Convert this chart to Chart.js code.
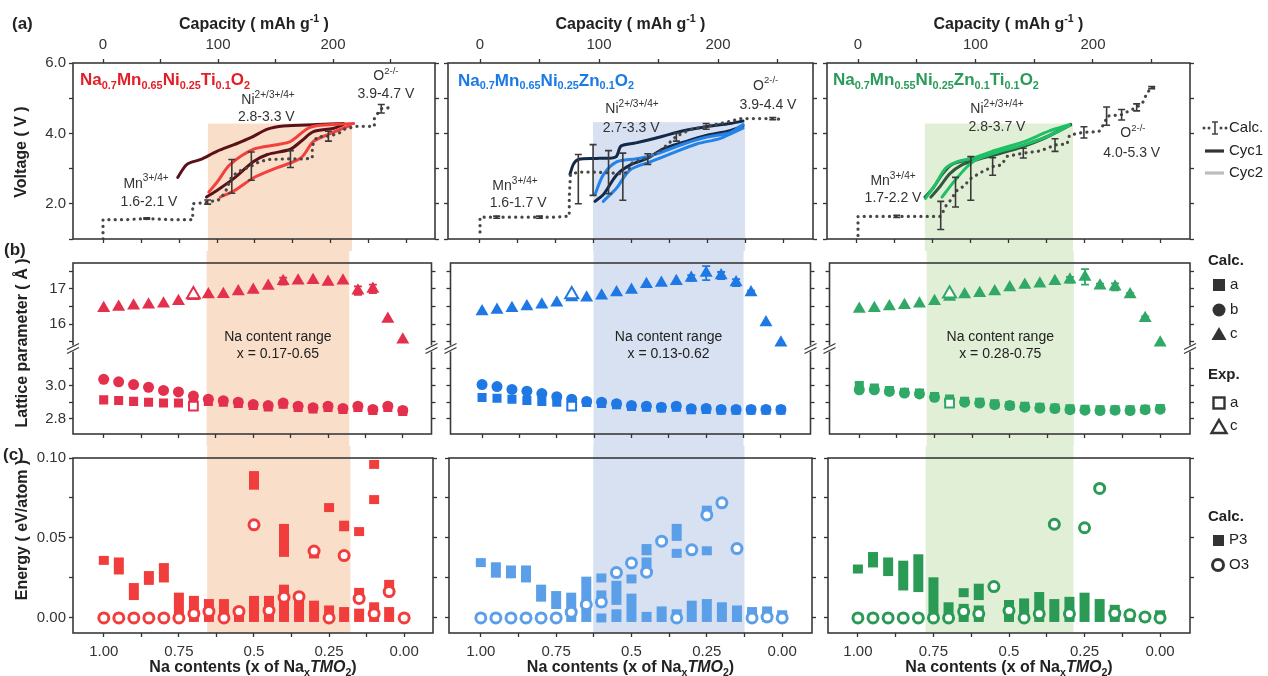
<!DOCTYPE html>
<html><head><meta charset="utf-8">
<script src="https://cdn.jsdelivr.net/npm/chart.js@4.4.1/dist/chart.umd.min.js"></script>
<style>
html,body{margin:0;padding:0;background:#fff;}
body{width:1268px;height:676px;position:relative;overflow:hidden;}
canvas{position:absolute;}
</style></head><body>
<script>
// ================= DATA =================
// Na content (x of NaxTMO2) of the computed states
const naX = [1.00,0.95,0.90,0.85,0.80,0.75,0.70,0.65,0.60,0.55,0.50,0.45,0.40,0.35,0.30,0.25,0.20,0.15,0.10,0.05,0.00];
const naTicks = [1.0,0.875,0.75,0.625,0.5,0.375,0.25,0.125,0.0];
const naTickLabels = ['1.00','','0.75','','0.5','','0.25','','0.00'];
const capTicks = [0,50,100,150,200,250];
const capTickLabels = ['0','','100','','200',''];
const voltTicks = [1,2,3,4,5,6];
const voltTickLabels = ['','2.0','','4.0','','6.0'];
const latTopTicks = [15.5,16,16.5,17,17.5];
const latTopLabels = ['','16','','17',''];
const latBotTicks = [2.8,2.9,3.0,3.1];
const latBotLabels = ['2.8','','3.0',''];
const enTicks = [0,0.025,0.05,0.075,0.10];
const enTickLabels = ['0.00','','0.05','','0.10'];

// Na content range (shaded) per composition [low, high]
const shadeRange = [[0.179,0.656],[0.125,0.627],[0.287,0.776]];
const shadeTopV = [4.28,4.32,4.28];
const rangeText = ['x = 0.17-0.65','x = 0.13-0.62','x = 0.28-0.75'];

// (a) calculated voltage staircase [capacity, V]
const calc1 = [[0,1.0],[0,1.55],[20,1.55],[38,1.58],[60,1.55],[78,1.55],[78,2.0],[85,2.02],[91,2.05],[100,2.1],[106,2.3],[112,2.78],[120,2.95],[129,3.07],[136,3.2],[145,3.26],[163,3.28],[175,3.27],[182,3.3],[182,3.65],[186,3.9],[196,3.92],[205,4.0],[210,4.12],[220,4.2],[230,4.2],[236,4.2],[236,4.45],[242,4.7],[252,4.74]];
const calc2 = [[0,1.2],[0,1.62],[14,1.62],[30,1.62],[50,1.62],[65,1.62],[75,1.65],[75,2.2],[76,2.84],[83,2.9],[95,2.9],[108,2.88],[120,2.85],[124,2.9],[127,3.15],[135,3.25],[141,3.3],[151,3.5],[158,3.7],[165,3.92],[176,4.1],[190,4.2],[205,4.3],[219,4.42],[236,4.42],[246,4.42],[252,4.4]];
const calc3 = [[0,1.1],[0,1.64],[20,1.64],[33,1.64],[50,1.64],[70,1.64],[72,1.75],[75,1.95],[80,2.15],[83,2.35],[90,2.5],[96,2.72],[105,2.9],[115,3.06],[122,3.1],[127,3.35],[135,3.4],[141,3.44],[155,3.5],[168,3.67],[178,3.7],[180,3.95],[192,4.03],[205,4.05],[210,4.3],[212,4.49],[224,4.53],[237,4.74],[242,4.85],[246,5.15],[250,5.3],[256,5.3]];
// error bars [capacity, V, +-]
const calcErr1 = [[38,1.58,0.02],[91,2.05,0.06],[112,2.78,0.48],[129,3.07,0.4],[163,3.27,0.24],[196,3.92,0.14],[242,4.7,0.12]];
const calcErr2 = [[14,1.62,0.03],[50,1.62,0.03],[82.6,2.7,0.7],[95,2.96,0.72],[108,2.9,0.61],[120,2.77,0.67],[141,3.27,0.15],[165,3.9,0.12],[190,4.2,0.08],[246,4.42,0.03]];
const calcErr3 = [[33,1.64,0.03],[70.4,1.67,0.4],[83,2.33,0.42],[96,2.72,0.62],[114.6,3.06,0.25],[140.7,3.44,0.14],[167.7,3.67,0.18],[192.3,4.03,0.16],[211.6,4.49,0.26],[224.4,4.53,0.15],[237.2,4.74,0.1],[250,5.3,0.03]];
// experimental cycles [capacity, V]
const cyc1a_1 = [[65,2.75],[73,3.12],[85,3.26],[99,3.49],[114,3.68],[128,3.87],[143,4.12],[157,4.21],[186,4.25],[209,4.28]];
const cyc1b_1 = [[90,2.19],[100,2.4],[113,2.7],[131,3.2],[143,3.4],[163,3.55],[172,3.77],[183,4.05],[200,4.14],[209,4.25]];
const cyc2a_1 = [[92,2.33],[100,2.65],[110,3.1],[131,3.55],[151,3.68],[163,3.77],[178,4.14],[189,4.23],[218,4.28]];
const cyc2b_1 = [[102,2.19],[114,2.37],[131,2.74],[151,3.02],[172,3.3],[183,3.77],[195,3.96],[215,4.23]];
const cyc1a_2 = [[75.6,2.84],[78.4,3.12],[82.6,3.26],[98,3.29],[114,3.33],[118.5,3.64],[131,3.73],[153.6,3.92],[170,4.07],[190,4.19],[210,4.28],[221,4.35]];
const cyc1b_2 = [[96.6,2.07],[103.6,2.26],[114.8,2.82],[126,3.1],[140,3.28],[154,3.56],[171,3.75],[190,3.94],[210,4.08],[221,4.22]];
const cyc2a_2 = [[96.6,2.26],[103.6,2.82],[114.8,3.19],[131.6,3.28],[148.5,3.42],[171,3.7],[190,3.89],[210,4.02],[221,4.25]];
const cyc2b_2 = [[103.6,2.07],[114.8,2.45],[126,2.96],[143,3.19],[160,3.42],[182,3.7],[202,3.86],[221,4.15]];
const cyc1a_3 = [[57,2.19],[64,2.45],[72,2.85],[80,3.12],[90,3.22],[100,3.27],[120,3.45],[140,3.65],[160,3.9],[181,4.26]];
const cyc1b_3 = [[62,2.19],[70,2.5],[78,2.85],[88,3.1],[100,3.24],[120,3.42],[140,3.62],[160,3.88],[181,4.24]];
const cyc2a_3 = [[57.5,2.15],[66,2.56],[74.5,3.01],[84.5,3.2],[97,3.29],[117,3.52],[140,3.75],[163,4.07],[180,4.25]];
const cyc2b_3 = [[71.5,2.19],[80,2.56],[91.6,3.01],[100,3.24],[117,3.45],[140,3.66],[163,3.94],[180,4.23]];

// (b) lattice parameters (Angstrom) vs naX
const latA1 = [2.914,2.910,2.905,2.900,2.895,2.895,2.895,2.905,2.900,2.893,2.880,2.872,2.888,2.868,2.860,2.868,2.856,2.868,2.850,2.868,2.845];
const latB1 = [3.038,3.023,3.006,2.990,2.971,2.962,2.937,2.918,2.909,2.900,2.886,2.880,2.895,2.876,2.867,2.876,2.863,2.876,2.857,2.876,2.851];
const latC1 = [16.45,16.49,16.52,16.55,16.58,16.65,16.79,16.84,16.85,16.93,16.97,17.08,17.22,17.23,17.25,17.20,17.23,16.95,17.00,16.15,15.56];
const latCErr1 = [0,0,0,0,0,0,0,0,0,0,0,0,0.1,0,0,0,0,0.12,0.12,0,0];
const latA2 = [2.928,2.924,2.918,2.910,2.905,2.900,2.900,2.898,2.893,2.885,2.875,2.870,2.865,2.870,2.855,2.857,2.852,2.852,2.852,2.852,2.852];
const latB2 = [3.006,2.994,2.977,2.966,2.952,2.933,2.918,2.905,2.900,2.891,2.880,2.876,2.870,2.876,2.861,2.863,2.857,2.857,2.857,2.857,2.857];
const latC2 = [16.36,16.40,16.45,16.50,16.55,16.61,16.76,16.75,16.81,16.90,16.97,17.13,17.17,17.22,17.31,17.45,17.38,17.18,16.90,16.05,15.47];
const latCErr2 = [0,0,0,0,0,0,0,0,0,0,0,0,0,0,0.08,0.2,0.1,0.1,0.05,0,0];
const latA3 = [3.000,2.985,2.970,2.960,2.955,2.935,2.920,2.905,2.900,2.890,2.880,2.875,2.870,2.865,2.860,2.858,2.855,2.855,2.855,2.858,2.862];
const latB3 = [2.975,2.975,2.965,2.955,2.950,2.930,2.910,2.900,2.895,2.885,2.880,2.870,2.865,2.862,2.855,2.852,2.850,2.852,2.850,2.855,2.858];
const latC3 = [16.43,16.45,16.50,16.54,16.58,16.65,16.77,16.84,16.88,16.93,17.04,17.11,17.15,17.22,17.26,17.34,17.09,17.06,16.84,16.17,15.47];
const latCErr3 = [0,0,0,0,0,0,0,0,0,0,0,0,0,0,0.08,0.22,0.06,0.1,0.05,0.05,0];
const expNa = 0.70;
const expA = [2.876,2.876,2.895];
const expC = [16.84,16.84,16.86];

// (c) relative energies (eV/atom): P3 as [x, low, high], O3 vs naX
const p3_1 = [[1.00,0.036,0.036],[0.95,0.030,0.035],[0.90,0.014,0.019],[0.85,0.0235,0.0265],[0.80,0.025,0.0315],
  [0.75,0,0.013],[0.70,0,0.011],[0.65,0,0.009],[0.60,0,0.009],[0.55,0,0.0016],
  [0.50,0.083,0.089],[0.50,0,0.011],[0.45,0,0.011],[0.40,0.041,0.056],[0.40,0,0.018],
  [0.35,0,0.012],[0.30,0.040,0.040],[0.30,0,0.008],[0.25,0.069,0.069],[0.25,0,0.005],
  [0.20,0.057,0.058],[0.20,0,0.004],[0.15,0.054,0.054],[0.15,0.012,0.016],[0.15,0,0.003],
  [0.10,0.096,0.096],[0.10,0.074,0.074],[0.10,0,0.007],[0.05,0.017,0.021],[0.05,0,0.004]];
const o3_1 = [0,0,0,0,0,0,0.0027,0.0041,0,0.0041,0.0582,0.0047,0.0129,0.0133,0.0418,0,0.039,0.0122,0.0027,0.0165,0];
const p3_2 = [[1.00,0.0346,0.0346],[0.95,0.028,0.032],[0.90,0.0276,0.030],[0.85,0.025,0.030],[0.80,0.013,0.018],
  [0.75,0.0084,0.014],[0.70,0,0.013],[0.65,0,0.023],[0.60,0.025,0.025],[0.60,0.0096,0.0144],[0.60,0,0],
  [0.55,0.011,0.0204],[0.55,0,0.0026],[0.50,0.0244,0.0244],[0.50,0,0.0124],[0.45,0.042,0.0434],[0.45,0.034,0.035],[0.45,0,0.001],
  [0.40,0,0.0044],[0.35,0.051,0.056],[0.35,0.0404,0.0404],[0.35,0,0.0026],[0.30,0,0.008],
  [0.25,0.0674,0.0674],[0.25,0.042,0.042],[0.25,0,0.009],[0.20,0,0.007],[0.15,0,0.005],[0.10,0,0.004],[0.05,0,0.0044],[0.00,0,0.002]];
const o3_2 = [0,0,0,0,0,0,0.0036,0.0084,0.010,0.0284,0.0344,0.0286,0.048,0,0.0426,0.0644,0.072,0.0434,0,0.0006,0];
const p3_3 = [[1.00,0.0306,0.0306],[0.95,0.0344,0.0384],[0.90,0.029,0.035],[0.85,0.020,0.033],[0.80,0.019,0.037],
  [0.75,0,0.0226],[0.70,0,0.007],[0.65,0.0158,0.0158],[0.65,0,0.006],[0.60,0.014,0.0186],[0.60,0,0.005],
  [0.50,0,0.0084],[0.45,0,0.0094],[0.40,0,0.0134],[0.35,0,0.009],[0.30,0,0.0104],[0.25,0,0.013],[0.20,0,0.009],
  [0.15,0,0.0054],[0.10,0,0.002],[0.05,0,0.0004],[0.00,0,0.002]];
const o3_3 = [0,0,0,0,0,0,0,0.004,0.0026,0.0196,0.0046,0,0.0026,0.0586,0.0026,0.0564,0.081,0.003,0.002,0.0006,0];

// ================= TEXT =================
const compSegs = [
  [['Na',''],['0.7','sub'],['Mn',''],['0.65','sub'],['Ni',''],['0.25','sub'],['Ti',''],['0.1','sub'],['O',''],['2','sub']],
  [['Na',''],['0.7','sub'],['Mn',''],['0.65','sub'],['Ni',''],['0.25','sub'],['Zn',''],['0.1','sub'],['O',''],['2','sub']],
  [['Na',''],['0.7','sub'],['Mn',''],['0.55','sub'],['Ni',''],['0.25','sub'],['Zn',''],['0.1','sub'],['Ti',''],['0.1','sub'],['O',''],['2','sub']]
];
const mnRange = ['1.6-2.1 V','1.6-1.7 V','1.7-2.2 V'];
const niRange = ['2.8-3.3 V','2.7-3.3 V','2.8-3.7 V'];
const oRange  = ['3.9-4.7 V','3.9-4.4 V','4.0-5.3 V'];
// label anchors in (capacity, V)
const anchor = [
  {title:[-20,5.5],  ni:[143.5,4.94], niR:[142,4.46], o:[246,5.63], oR:[246,5.11], mn:[37.4,2.57], mnR:[40,2.06]},
  {title:[-18.5,5.49],ni:[127.7,4.69], niR:[127,4.15], o:[240,5.35], oR:[242,4.79], mn:[29.4,2.51], mnR:[32,2.01]},
  {title:[-21.3,5.51],ni:[118.3,4.69], niR:[118.3,4.17],o:[234,4.0], oR:[233,3.44], mn:[29.8,2.65], mnR:[29.8,2.15]}
];

// ================= STYLE / LAYOUT =================
const FONT = '"Liberation Sans", Arial, Helvetica, sans-serif';
const INK = '#333';
const titleColor = ['#e21f27','#1b7ae6','#2a9b58'];
const latColor = ['#e3304c','#1f78e3','#30a866'];
const barColor = ['#f23d3d','#5b9fe8','#2b9a55'];
const cyc1Color = ['#5b1117','#13294a','#2e5b3e'];
const cyc2Color = ['#f2403f','#2582e6','#1fbf66'];
const shadeColor = ['#f9dfca','#d7e1f1','#e2efd7'];
const capRange = [[-26.1,288.7],[-26.9,279.8],[-26.4,282.6]];
const naRange = [[-0.096,1.1026],[-0.099,1.1056],[-0.099,1.099]];

const COLS = [{f:[73,435],c:[0,441]},{f:[448,813],c:[441,820]},{f:[827,1190],c:[820,1268]}];
const ROWS = {a:{f:[63,243],c:[0,251]}, b:{f:[259,438],c:[251,446]}, c:{f:[454,633],c:[446,676]}};

Chart.defaults.font.family = FONT;
Chart.defaults.color = INK;

function makeCanvas(ci, rk){
  const c = COLS[ci], r = ROWS[rk];
  const w = c.c[1]-c.c[0], h = r.c[1]-r.c[0];
  const cv = document.createElement('canvas');
  cv.width = w; cv.height = h;
  cv.style.left = c.c[0]+'px'; cv.style.top = r.c[0]+'px';
  cv.style.width = w+'px'; cv.style.height = h+'px';
  document.body.appendChild(cv);
  return {cv, x0:c.c[0], y0:r.c[0], L:c.f[0]-c.c[0], R:c.c[1]-c.f[1], T:r.f[0]-r.c[0], B:r.c[1]-r.f[1]};
}

function axis(pos, min, max, values, labels, fit, extra, pad){
  const vertical = pos==='left'||pos==='right';
  return Object.assign({
    type:'linear', position:pos, min, max, offset:false,
    afterBuildTicks(ax){ ax.ticks = values.map(v=>({value:v})); },
    afterFit(ax){ if (vertical) ax.width = fit; else ax.height = fit; },
    ticks:{autoSkip:false, maxRotation:0, minRotation:0, padding:pad==null?3:pad, color:'#333',
      font:{size:15, family:FONT}, callback:(v,i)=> labels ? (labels[i] ?? '') : ''},
    grid:{display:true, drawOnChartArea:false, drawTicks:true, tickLength:4, tickWidth:1.3, tickColor:'#333', offset:false, z:1},
    border:{display:false}
  }, extra||{});
}

function drawRich(ctx, segs, x, y, size, o){
  o = o||{};
  const b = o.bold ? 'bold ' : '';
  const parts = segs.map(([t,m])=>{
    const small = (m==='sub'||m==='sup');
    const fs = small ? size*(o.small||0.66) : size;
    const font = (m==='i'?'italic ':'') + b + fs.toFixed(1) + 'px ' + FONT;
    ctx.font = font;
    return {t, m, font, w: ctx.measureText(t).width};
  });
  const total = parts.reduce((s,p)=>s+p.w,0);
  let cx = o.align==='center' ? x-total/2 : (o.align==='right' ? x-total : x);
  ctx.save();
  ctx.fillStyle = o.color||'#222'; ctx.textBaseline='middle'; ctx.textAlign='left';
  for (const p of parts){
    ctx.font = p.font;
    const dy = p.m==='sub' ? size*0.32 : (p.m==='sup' ? -size*0.36 : 0);
    ctx.fillText(p.t, cx, y+dy);
    cx += p.w;
  }
  ctx.restore();
}

// page-level texts (absolute pixel positions)
const overlayTexts = [
  {s:[['(a)','']], x:12, y:24, size:17, bold:true},
  {s:[['(b)','']], x:4, y:250, size:17, bold:true},
  {s:[['(c)','']], x:3, y:455, size:17, bold:true},
  {s:[['Voltage ( V )','']], x:22, y:152, size:16, bold:true, rot:true},
  {s:[['Lattice parameter ( Å )','']], x:23, y:343, size:16, bold:true, rot:true},
  {s:[['Energy ( eV/atom )','']], x:23, y:530, size:16, bold:true, rot:true},
  {s:[['Calc.','']], x:1229, y:128, size:15},
  {s:[['Cyc1','']], x:1229, y:151, size:15},
  {s:[['Cyc2','']], x:1229, y:173, size:15},
  {s:[['Calc.','']], x:1208, y:261, size:15, bold:true},
  {s:[['a','']], x:1230, y:285, size:15},
  {s:[['b','']], x:1230, y:310, size:15},
  {s:[['c','']], x:1230, y:334, size:15},
  {s:[['Exp.','']], x:1208, y:375, size:15, bold:true},
  {s:[['a','']], x:1230, y:403, size:15},
  {s:[['c','']], x:1230, y:426, size:15},
  {s:[['Calc.','']], x:1208, y:517, size:15, bold:true},
  {s:[['P3','']], x:1229, y:540, size:15},
  {s:[['O3','']], x:1229, y:565, size:15}
];

function drawLegendIcons(ctx){
  ctx.save();
  const k = '#333';
  // Calc. (dotted + error bar)
  ctx.fillStyle = '#444';
  for (const x of [1204,1209,1221,1226]){ ctx.beginPath(); ctx.arc(x,128,1.5,0,Math.PI*2); ctx.fill(); }
  ctx.strokeStyle = '#444'; ctx.lineWidth = 1.6; ctx.beginPath();
  ctx.moveTo(1215,122); ctx.lineTo(1215,134); ctx.moveTo(1212,122); ctx.lineTo(1218,122); ctx.moveTo(1212,134); ctx.lineTo(1218,134);
  ctx.stroke();
  ctx.lineWidth = 3.2; ctx.lineCap = 'butt';
  ctx.strokeStyle = k; ctx.beginPath(); ctx.moveTo(1205,151); ctx.lineTo(1224,151); ctx.stroke();
  ctx.strokeStyle = '#bdbdbd'; ctx.beginPath(); ctx.moveTo(1205,173); ctx.lineTo(1224,173); ctx.stroke();
  // lattice legend
  ctx.fillStyle = k;
  ctx.fillRect(1213,279,12,12);
  ctx.beginPath(); ctx.arc(1219,310,6.5,0,Math.PI*2); ctx.fill();
  ctx.beginPath(); ctx.moveTo(1219,327); ctx.lineTo(1226.5,340); ctx.lineTo(1211.5,340); ctx.closePath(); ctx.fill();
  ctx.strokeStyle = k; ctx.lineWidth = 2.4;
  ctx.strokeRect(1213.5,397.5,11,11);
  ctx.beginPath(); ctx.moveTo(1219,420); ctx.lineTo(1226.5,433); ctx.lineTo(1211.5,433); ctx.closePath(); ctx.stroke();
  // energy legend
  ctx.fillRect(1213,535,11,11);
  ctx.lineWidth = 3; ctx.beginPath(); ctx.arc(1218,565,5.5,0,Math.PI*2); ctx.stroke();
  ctx.restore();
}

function drawOverlay(chart, g){
  const ctx = chart.ctx;
  ctx.save();
  ctx.translate(-g.x0, -g.y0);
  for (const t of overlayTexts){
    if (t.rot){
      ctx.save(); ctx.translate(t.x, t.y); ctx.rotate(-Math.PI/2);
      drawRich(ctx, t.s, 0, 0, t.size, {bold:t.bold, align:'center', color:'#222'});
      ctx.restore();
    } else {
      drawRich(ctx, t.s, t.x, t.y, t.size, {bold:t.bold, color:'#222'});
    }
  }
  drawLegendIcons(ctx);
  ctx.restore();
}

function drawErr(chart, xId, yId, items, color, cap, lw){
  const xs = chart.scales[xId], ys = chart.scales[yId], ctx = chart.ctx;
  ctx.save(); ctx.strokeStyle = color; ctx.lineWidth = lw;
  for (const [x,y,e] of items){
    if (!e) continue;
    const px = xs.getPixelForValue(x), y1 = ys.getPixelForValue(y-e), y2 = ys.getPixelForValue(y+e);
    ctx.beginPath();
    ctx.moveTo(px,y1); ctx.lineTo(px,y2);
    ctx.moveTo(px-cap,y1); ctx.lineTo(px+cap,y1);
    ctx.moveTo(px-cap,y2); ctx.lineTo(px+cap,y2);
    ctx.stroke();
  }
  ctx.restore();
}

function deco(ci, row, g){
  return {
    id:'deco',
    beforeDraw(chart){
      const ctx = chart.ctx, xs = chart.scales.x, ca = chart.chartArea;
      const xa = xs.getPixelForValue(shadeRange[ci][1]), xb = xs.getPixelForValue(shadeRange[ci][0]);
      let top = 0, bot = chart.height;
      if (row==='a') top = chart.scales.y.getPixelForValue(shadeTopV[ci]);
      if (row==='c') bot = ca.bottom;
      ctx.save(); ctx.fillStyle = shadeColor[ci];
      ctx.fillRect(Math.min(xa,xb), top, Math.abs(xb-xa), bot-top);
      ctx.restore();
    },
    afterDatasetsDraw(chart){
      const ctx = chart.ctx, ca = chart.chartArea;
      if (row==='a'){
        drawErr(chart,'cap','y',[calcErr1,calcErr2,calcErr3][ci],'#3a3a3a',3.5,1.6);
        const xs = chart.scales.cap, ys = chart.scales.y, A = anchor[ci];
        const P = p => [xs.getPixelForValue(p[0]), ys.getPixelForValue(p[1])];
        let q = P(A.title); drawRich(ctx, compSegs[ci], q[0], q[1], 17, {bold:true, color:titleColor[ci], small:0.64});
        q = P(A.ni); drawRich(ctx, [['Ni',''],['2+/3+/4+','sup']], q[0], q[1], 14, {align:'center', color:'#333', small:0.72});
        q = P(A.niR); drawRich(ctx, [[niRange[ci],'']], q[0], q[1], 14, {align:'center', color:'#333'});
        q = P(A.o); drawRich(ctx, [['O',''],['2-/-','sup']], q[0], q[1], 14, {align:'center', color:'#333', small:0.68});
        q = P(A.oR); drawRich(ctx, [[oRange[ci],'']], q[0], q[1], 14, {align:'center', color:'#333'});
        q = P(A.mn); drawRich(ctx, [['Mn',''],['3+/4+','sup']], q[0], q[1], 14, {align:'center', color:'#333', small:0.72});
        q = P(A.mnR); drawRich(ctx, [[mnRange[ci],'']], q[0], q[1], 14, {align:'center', color:'#333'});
        drawRich(ctx, [['Capacity ( mAh g',''],['-1','sup'],[' )','']], (ca.left+ca.right)/2, 25, 16, {bold:true, align:'center', color:'#222'});
      }
      if (row==='b'){
        const lat = [latC1,latC2,latC3][ci], err = [latCErr1,latCErr2,latCErr3][ci];
        drawErr(chart,'x','yTop', naX.map((x,i)=>[x,lat[i],err[i]]), latColor[ci], 4, 1.8);
        const brk = chart.scales.yTop.bottom;
        const mx = chart.scales.x.getPixelForValue((shadeRange[ci][0]+shadeRange[ci][1])/2);
        drawRich(ctx, [['Na content range','']], mx, brk-11, 14, {align:'center', color:'#222'});
        drawRich(ctx, [[rangeText[ci],'']], mx, brk+6, 14, {align:'center', color:'#222'});
      }
      if (row==='c'){
        drawRich(ctx, [['Na contents (x of Na',''],['x','sub'],['TMO','i'],['2','sub'],[')','']], (ca.left+ca.right)/2, ca.bottom+35, 16, {bold:true, align:'center', color:'#222'});
      }
      ctx.save(); ctx.strokeStyle = '#3a3a3a'; ctx.lineWidth = 1.6;
      ctx.strokeRect(ca.left, ca.top, ca.right-ca.left, ca.bottom-ca.top);
      if (row==='b'){
        const brk = chart.scales.yTop.bottom;
        for (const x of [ca.left, ca.right]){
          ctx.fillStyle = '#fff'; ctx.fillRect(x-2, brk-3, 4, 6);
          ctx.lineWidth = 1.3; ctx.beginPath();
          ctx.moveTo(x-6, brk+1); ctx.lineTo(x+6, brk-5);
          ctx.moveTo(x-6, brk+5); ctx.lineTo(x+6, brk-1);
          ctx.stroke();
        }
      }
      ctx.restore();
    },
    afterDraw(chart){ drawOverlay(chart, g); }
  };
}

const baseOpts = () => ({responsive:false, animation:false, events:[], layout:{padding:0},
  plugins:{legend:{display:false}, tooltip:{enabled:false}}});

function rowA(ci){
  const g = makeCanvas(ci,'a');
  const pts = a => a.map(([x,y])=>({x,y}));
  const line = (a,color) => ({type:'line', data:pts(a), xAxisID:'cap', yAxisID:'y', borderColor:color, borderWidth:3,
    pointRadius:0, tension:0.3, fill:false, borderCapStyle:'round', borderJoinStyle:'round'});
  const C1 = [[cyc1a_1,cyc1b_1],[cyc1a_2,cyc1b_2],[cyc1a_3,cyc1b_3]][ci];
  const C2 = [[cyc2a_1,cyc2b_1],[cyc2a_2,cyc2b_2],[cyc2a_3,cyc2b_3]][ci];
  const datasets = [
    Object.assign(line([calc1,calc2,calc3][ci], '#474747'), {borderWidth:3.2, borderDash:[0.1,6.2], tension:0}),
    line(C2[0], cyc2Color[ci]), line(C2[1], cyc2Color[ci]),
    line(C1[0], cyc1Color[ci]), line(C1[1], cyc1Color[ci])
  ];
  const o = baseOpts();
  o.scales = {
    cap: axis('top', capRange[ci][0], capRange[ci][1], capTicks, capTickLabels, g.T, null, 5),
    x: axis('bottom', naRange[ci][0], naRange[ci][1], naTicks, null, g.B, {reverse:true}),
    y: axis('left', 1, 6, voltTicks, ci===0?voltTickLabels:null, g.L),
    yR: axis('right', 1, 6, voltTicks, null, g.R)
  };
  new Chart(g.cv, {type:'line', data:{datasets}, options:o, plugins:[deco(ci,'a',g)]});
}

function rowB(ci){
  const g = makeCanvas(ci,'b');
  const col = latColor[ci];
  const A = [latA1,latA2,latA3][ci], B = [latB1,latB2,latB3][ci], Cc = [latC1,latC2,latC3][ci];
  const sc = (data, yId, style, r, fill, bw) => ({type:'line', showLine:false, data, xAxisID:'x', yAxisID:yId,
    pointStyle:style, pointRadius:r, pointBackgroundColor:fill, pointBorderColor:col, pointBorderWidth:bw});
  const datasets = [
    sc([{x:expNa, y:expC[ci]}], 'yTop', 'triangle', 7.5, '#fff', 2),
    sc([{x:expNa, y:expA[ci]}], 'yBot', 'rect', 6.2, '#fff', 2),
    sc(naX.map((x,i)=>({x, y:Cc[i]})), 'yTop', 'triangle', 7.5, col, 0),
    sc(naX.map((x,i)=>({x, y:B[i]})), 'yBot', 'circle', 5.5, col, 0),
    sc(naX.map((x,i)=>({x, y:A[i]})), 'yBot', 'rect', 6.4, col, 0)
  ];
  const o = baseOpts();
  o.layout = {padding:{top:g.T}};
  o.scales = {
    x: axis('bottom', naRange[ci][0], naRange[ci][1], naTicks, null, g.B, {reverse:true}),
    yBot: axis('left', 2.709, 3.223, latBotTicks, ci===0?latBotLabels:null, g.L, {stack:'L', stackWeight:1}),
    yTop: axis('left', 15.31, 17.736, latTopTicks, ci===0?latTopLabels:null, g.L, {stack:'L', stackWeight:1}),
    yTopR: axis('right', 15.31, 17.736, latTopTicks, null, g.R, {stack:'R', stackWeight:1}),
    yBotR: axis('right', 2.709, 3.223, latBotTicks, null, g.R, {stack:'R', stackWeight:1})
  };
  new Chart(g.cv, {type:'line', data:{datasets}, options:o, plugins:[deco(ci,'b',g)]});
}

function rowC(ci){
  const g = makeCanvas(ci,'c');
  const col = barColor[ci];
  const P = [p3_1,p3_2,p3_3][ci], O = [o3_1,o3_2,o3_3][ci];
  const datasets = [
    {type:'line', showLine:false, data:naX.map((x,i)=>({x, y:O[i]})), xAxisID:'x', yAxisID:'y',
      pointStyle:'circle', pointRadius:5, pointBorderWidth:3, pointBorderColor:col, pointBackgroundColor:'#fff'},
    {type:'bar', data:P.map(([x,lo,hi])=>({x, y:[lo,hi]})), xAxisID:'x', yAxisID:'y',
      backgroundColor:col, borderWidth:0, barThickness:1, inflateAmount:4.5, grouped:false}
  ];
  const o = baseOpts();
  o.layout = {padding:{top:g.T}};
  o.scales = {
    x: axis('bottom', naRange[ci][0], naRange[ci][1], naTicks, naTickLabels, g.B, {reverse:true}, 6),
    y: axis('left', -0.0094, 0.1, enTicks, ci===0?enTickLabels:null, g.L),
    yR: axis('right', -0.0094, 0.1, enTicks, null, g.R)
  };
  new Chart(g.cv, {type:'bar', data:{datasets}, options:o, plugins:[deco(ci,'c',g)]});
}

for (let ci=0; ci<3; ci++){ rowA(ci); rowB(ci); rowC(ci); }
</script>
</body></html>
